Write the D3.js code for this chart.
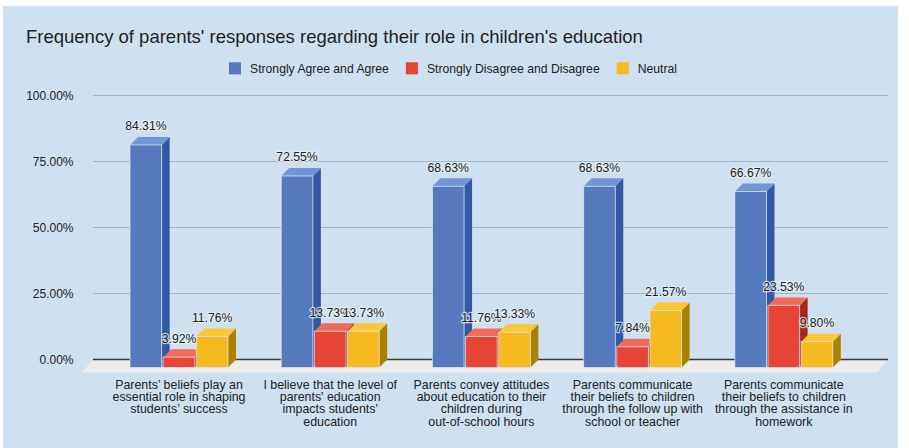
<!DOCTYPE html>
<html>
<head>
<meta charset="utf-8">
<script src="https://cdn.jsdelivr.net/npm/d3@7"></script>
<style>
  html, body { margin: 0; padding: 0; background: #ffffff; }
  svg { display: block; font-family: "Liberation Sans", Arial, Helvetica, sans-serif; }
</style>
</head>
<body>
<svg id="chart" width="909" height="448"></svg>
<script>
// ---- data ----
const categories = [
  "Parents’ beliefs play an essential role in shaping students’ success",
  "I believe that the level of parents' education impacts students' education",
  "Parents convey attitudes about education to their children during out-of-school hours",
  "Parents communicate their beliefs to children through the follow up with school or teacher",
  "Parents communicate their beliefs to children through the assistance in homework"
];
const seriesNames = ["Strongly Agree and Agree", "Strongly Disagree and Disagree", "Neutral"];
const agreeValues    = [84.31, 72.55, 68.63, 68.63, 66.67];
const disagreeValues = [3.92, 13.73, 11.76, 7.84, 23.53];
const neutralValues  = [11.76, 13.73, 13.33, 21.57, 9.80];
const yTicks = [0, 25, 50, 75, 100];
const titleText = "Frequency of parents' responses regarding their role in children's education";

const seriesValues = [agreeValues, disagreeValues, neutralValues];

// face colours per series: front, side, top
const palette = [
  { front: "#5479bd", side: "#3258a6", top: "#7096d6" },
  { front: "#e64536", side: "#a3271d", top: "#f06a5e" },
  { front: "#f6b91f", side: "#a98000", top: "#fac737" }
];

const svg = d3.select("#chart");

// panel background
svg.append("rect")
  .attr("x", 3).attr("y", 6).attr("width", 895).attr("height", 442)
  .attr("fill", "#cfe0f0");

// 3D depth offset of the bars (right and up)
const dx = 8, dy = 8;

// value scale on the back wall
const yWall = d3.scaleLinear().domain([0, 100]).range([359.5, 95.5]);

// group scale (front faces)
const x0 = d3.scaleBand().domain(d3.range(categories.length))
  .range([103.4, 859.4]).paddingInner(0.352).paddingOuter(0.176);
const x1 = d3.scaleBand().domain(d3.range(seriesNames.length))
  .range([0, x0.bandwidth()]).paddingInner(0.045);

const wallLeft = 93, wallRight = 888;

// gridlines
const grid = svg.append("g");
yTicks.filter(t => t !== 0).forEach(t => {
  grid.append("line")
    .attr("x1", wallLeft).attr("x2", wallRight)
    .attr("y1", yWall(t)).attr("y2", yWall(t))
    .attr("stroke", "#a3b5c8").attr("stroke-width", 1);
});

// y axis labels
const yAxis = d3.axisLeft(yWall).tickValues(yTicks)
  .tickFormat(d => d3.format(".2f")(d) + "%").tickSize(0).tickPadding(0);
const yg = svg.append("g").attr("transform", "translate(73.5,0)").call(yAxis);
yg.select(".domain").remove();
yg.selectAll("text").attr("font-size", 12).attr("fill", "#222")
  .attr("font-family", "'Liberation Sans', Arial, sans-serif");

// floor
const floorDepthX = 11, floorDepthY = 13;
const y0 = yWall(0);
svg.append("path")
  .attr("d", `M${wallLeft},${y0} L${wallRight},${y0} L${wallRight - floorDepthX},${y0 + floorDepthY} L${wallLeft - floorDepthX},${y0 + floorDepthY} Z`)
  .attr("fill", "#ececec");

// zero line
svg.append("line")
  .attr("x1", wallLeft).attr("x2", wallRight)
  .attr("y1", y0).attr("y2", y0)
  .attr("stroke", "#3a3a3a").attr("stroke-width", 1.3);

// bars: drawn left to right so each front face covers the side of its neighbour
const bars = svg.append("g");
const labelData = [];
categories.forEach((c, gi) => {
  seriesValues.forEach((vals, si) => {
    const v = vals[gi];
    const x = x0(gi) + x1(si);
    const w = x1.bandwidth();
    const yt = yWall(v) + dy;
    const yb = yWall(0) + dy;
    const col = palette[si];
    // side face
    bars.append("path")
      .attr("d", `M${x + w},${yt} L${x + w + dx},${yt - dy} L${x + w + dx},${yb - dy} L${x + w},${yb} Z`)
      .attr("fill", col.side);
    // top face
    bars.append("path")
      .attr("d", `M${x},${yt} L${x + dx},${yt - dy} L${x + w + dx},${yt - dy} L${x + w},${yt} Z`)
      .attr("fill", col.top);
    // front face
    bars.append("rect")
      .attr("x", x).attr("y", yt).attr("width", w).attr("height", yb - yt)
      .attr("fill", col.front)
      .attr("stroke", "#e6edf6").attr("stroke-opacity", 0.7).attr("stroke-width", 1);
    labelData.push({ x: x + w / 2, y: yWall(v) - 6.5, text: d3.format(".2f")(v) + "%" });
  });
});

// value labels
svg.append("g").selectAll("text").data(labelData).join("text")
  .attr("x", d => d.x).attr("y", d => d.y)
  .attr("text-anchor", "middle")
  .attr("font-size", 12.2).attr("fill", "#222")
  .attr("stroke", "#e8f0f8").attr("stroke-width", 2.5).attr("stroke-opacity", 0.75)
  .attr("paint-order", "stroke").attr("stroke-linejoin", "round")
  .text(d => d.text);

// category labels, wrapped to a fixed width
const catG = svg.append("g");
const maxW = 141;
categories.forEach((c, gi) => {
  const cx = x0(gi) + x0.bandwidth() / 2;
  const t = catG.append("text")
    .attr("x", cx).attr("y", 388.5)
    .attr("text-anchor", "middle").attr("font-size", 12.4).attr("fill", "#222");
  const words = c.split(" ");
  let line = [];
  let tspan = t.append("tspan").attr("x", cx).attr("dy", 0);
  words.forEach(word => {
    line.push(word);
    tspan.text(line.join(" "));
    if (tspan.node().getComputedTextLength() > maxW && line.length > 1) {
      line.pop();
      tspan.text(line.join(" "));
      line = [word];
      tspan = t.append("tspan").attr("x", cx).attr("dy", 12.4).text(word);
    }
  });
});

// title
svg.append("text")
  .attr("x", 26).attr("y", 43)
  .attr("font-size", 18.5).attr("fill", "#1f1f1f")
  .text(titleText);

// legend
const legend = svg.append("g").attr("transform", "translate(229,68.3)");
let lx = 0;
seriesNames.forEach((name, si) => {
  const g = legend.append("g").attr("transform", `translate(${lx},0)`);
  g.append("rect").attr("x", 0).attr("y", -6).attr("width", 12).attr("height", 12)
    .attr("fill", palette[si].front);
  const tx = g.append("text").attr("x", 21).attr("y", 4.2)
    .attr("font-size", 12.2).attr("fill", "#222").text(name);
  lx += 21 + tx.node().getComputedTextLength() + 17;
});
</script>
</body>
</html>
